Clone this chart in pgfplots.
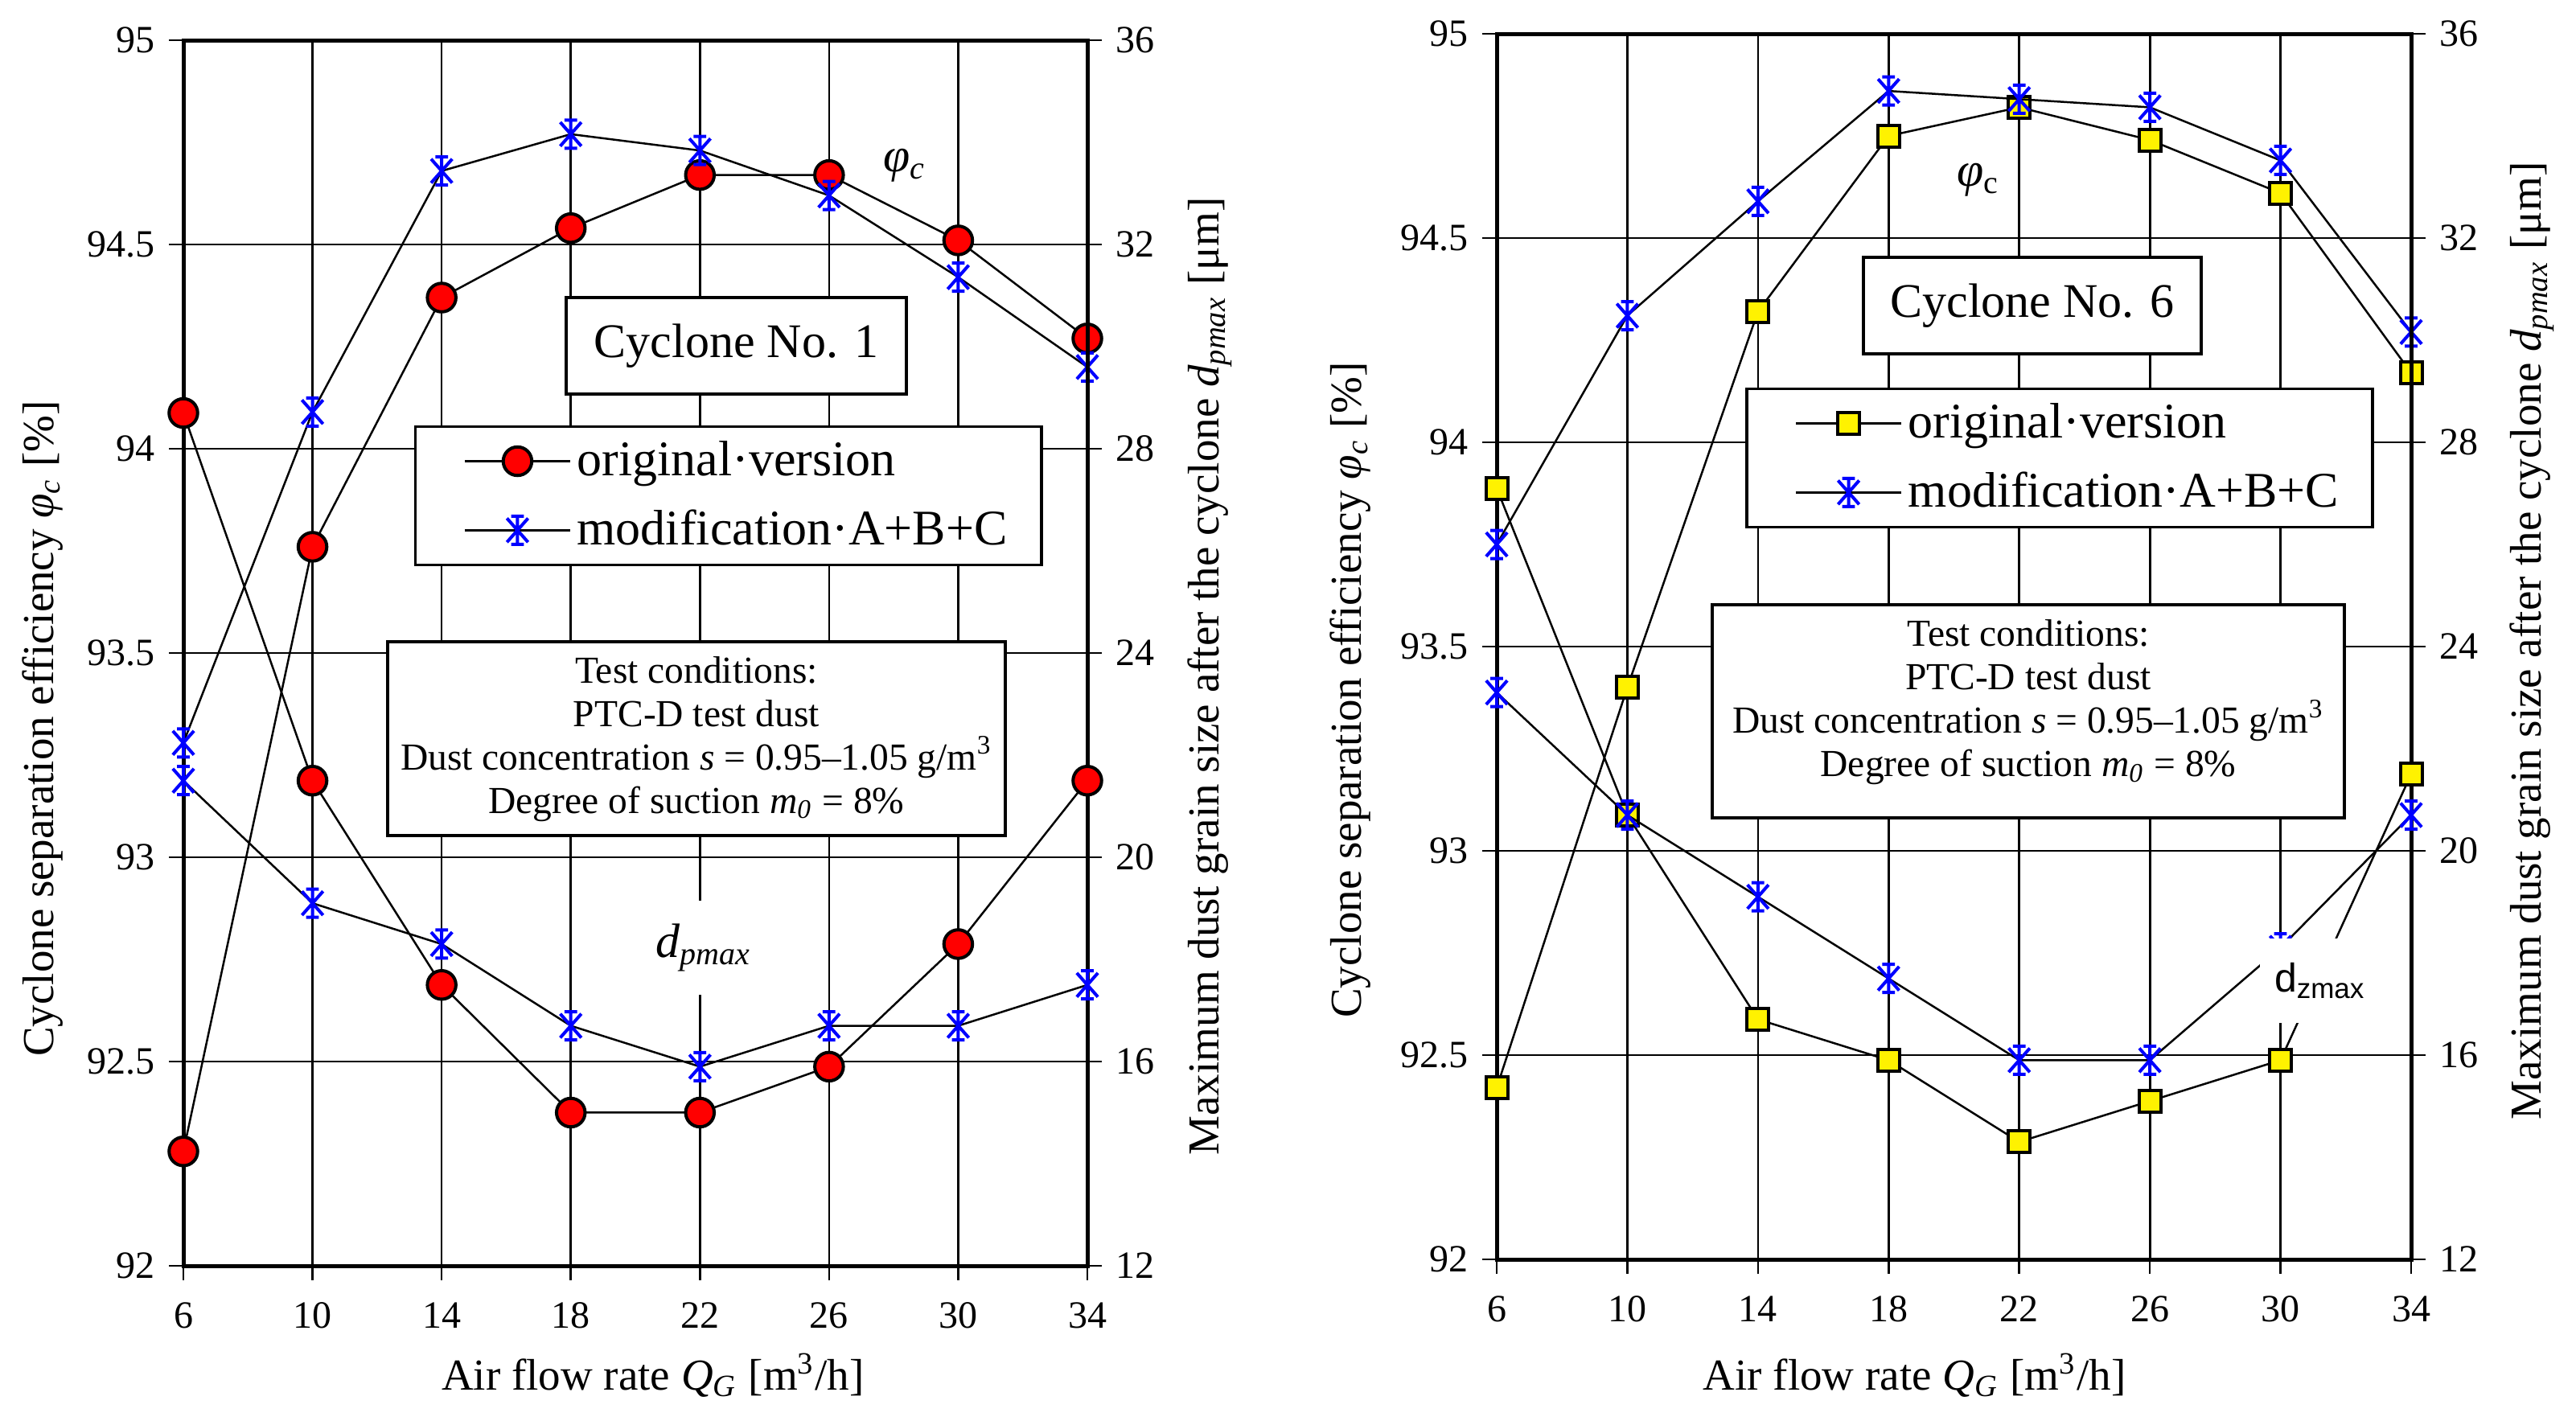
\documentclass[border=0pt]{standalone}
\usepackage{fontspec}
\setmainfont{Liberation Serif}
\newfontfamily\sansf{Liberation Sans}
\usepackage{pgfplots}
\pgfplotsset{compat=1.18}

\pgfdeclareplotmark{xstar}{%
  \pgfpathmoveto{\pgfqpoint{0pt}{-\pgfplotmarksize}}%
  \pgfpathlineto{\pgfqpoint{0pt}{\pgfplotmarksize}}%
  \pgfpathmoveto{\pgfqpoint{-0.75\pgfplotmarksize}{-0.85\pgfplotmarksize}}%
  \pgfpathlineto{\pgfqpoint{0.75\pgfplotmarksize}{0.85\pgfplotmarksize}}%
  \pgfpathmoveto{\pgfqpoint{-0.75\pgfplotmarksize}{0.85\pgfplotmarksize}}%
  \pgfpathlineto{\pgfqpoint{0.75\pgfplotmarksize}{-0.85\pgfplotmarksize}}%
  \pgfpathmoveto{\pgfqpoint{-0.45\pgfplotmarksize}{\pgfplotmarksize}}%
  \pgfpathlineto{\pgfqpoint{0.45\pgfplotmarksize}{\pgfplotmarksize}}%
  \pgfpathmoveto{\pgfqpoint{-0.45\pgfplotmarksize}{-\pgfplotmarksize}}%
  \pgfpathlineto{\pgfqpoint{0.45\pgfplotmarksize}{-\pgfplotmarksize}}%
  \pgfusepathqstroke}

\pgfplotsset{
  common/.style={
    scale only axis, height=304.8pt,
    xmin=6, xmax=34,
    tick align=outside, major tick length=3.6pt,
    every tick/.style={black, line width=0.5pt},
    ticklabel style={font=\fontsize{9.6}{11}\selectfont},
    xticklabel style={yshift=-2pt},
    label style={font=\fontsize{11}{13}\selectfont},
    axis line style={line width=1pt},
    clip=false, clip marker paths=true,
  },
  leftax/.style={
    common, anchor=north west,
    ymin=92, ymax=95, ytick={92,92.5,...,95.01},
    yticklabels={92,92.5,93,93.5,94,94.5,95},
    xtick={6,10,...,34}, xticklabels={6,10,14,18,22,26,30,34},
    xtick pos=bottom, ytick pos=left,
    grid=major, major grid style={black, line width=0.54pt},
    xlabel={Air flow rate \textit{Q}\textsubscript{\textit{G}} [m\textsuperscript{3}/h]},
    ylabel={Cyclone separation efficiency \textit{φ}\textsubscript{\textit{c}} [\%]},
    legend cell align=left,
    legend image code/.code={\path (-5pt,0pt);
      \draw[mark repeat=2,mark phase=2,##1] plot coordinates {(0pt,0pt) (13.1pt,0pt) (26.2pt,0pt)};},
  },
  rightax/.style={
    common, anchor=north west,
    ymin=12, ymax=36, ytick={12,16,...,36},
    yticklabels={12,16,20,24,28,32,36},
    axis y line*=right, axis x line=none,
    ylabel={Maximum dust grain size after the cyclone \textit{d}\textsubscript{\textit{pmax}} [μm]},
  },
  lgd/.style={legend style={draw=black, line width=0.7pt, fill=white,
      font=\fontsize{12.4}{14}\selectfont, inner xsep=7pt, inner ysep=2pt,
      row sep=4pt, nodes={inner sep=1.5pt}, anchor=north west}},
  orig/.style={black, line width=0.5pt, mark=*, mark size=3.55pt,
      mark options={fill=red, draw=black, line width=0.8pt}},
  origsq/.style={black, line width=0.5pt, mark=square*, mark size=2.7pt,
      mark options={fill=yellow, draw=black, line width=0.8pt}},
  modi/.style={black, line width=0.5pt, mark=xstar, mark size=3.5pt,
      mark options={draw=blue, line width=0.8pt}},
}

\begin{document}
\begin{tikzpicture}
\useasboundingbox (0pt,0pt) rectangle (640.6pt,-353.4pt);

% ---------------- Cyclone No. 1 ----------------
\begin{axis}[leftax, lgd, at={(45.6pt,-10pt)}, width=224.8pt,
  xlabel style={at={(rel axis cs:0.5196,-0.0893)}, anchor=center},
  ylabel style={at={(rel axis cs:-0.1557,0.4383)}, anchor=center},
  legend style={at={(rel axis cs:0.2553,0.6857)}}]
\addplot[orig] coordinates {(6,92.28) (10,93.76) (14,94.37) (18,94.54) (22,94.67) (26,94.67) (30,94.51) (34,94.27)};
\addlegendentry{original·version}
\addplot[modi] coordinates {(6,93.28) (10,94.09) (14,94.68) (18,94.77) (22,94.73) (26,94.62) (30,94.42) (34,94.20)};
\addlegendentry{modification·A+B+C}
\end{axis}
\begin{axis}[rightax, at={(45.6pt,-10pt)}, width=224.8pt,
  ylabel style={at={(rel axis cs:1.1352,0.481)}, anchor=center}]
\addplot[orig] coordinates {(6,28.7) (10,21.5) (14,17.5) (18,15.0) (22,15.0) (26,15.9) (30,18.3) (34,21.5)};
\addplot[modi] coordinates {(6,21.5) (10,19.1) (14,18.3) (18,16.7) (22,15.9) (26,16.7) (30,16.7) (34,17.5)};
\node[draw=black, line width=0.7pt, fill=white, minimum width=84.6pt, minimum height=24pt, inner sep=0pt,
  font=\fontsize{12}{14}\selectfont] at (rel axis cs:0.6117,0.7507) {Cyclone No. 1};
\node[draw=black, line width=0.7pt, fill=white, minimum width=153.6pt, minimum height=48.2pt, inner sep=0pt]
  at (rel axis cs:0.5676,0.4301) {};
\node[anchor=north, align=center, inner sep=0pt, font=\fontsize{9.5}{10.8}\selectfont]
  at (rel axis cs:0.5676,0.498) {Test conditions:\\PTC-D test dust\\Dust concentration \textit{s} = 0.95–1.05 g/m\textsuperscript{3}\\Degree of suction \textit{m}\textsubscript{\textit{0}} = 8\%};
\node[font=\fontsize{12}{14}\selectfont] at (rel axis cs:0.798,0.898) {\textit{φ}\textsubscript{\textit{c}}};
\node[fill=white, minimum width=25.6pt, minimum height=23.4pt, inner sep=0pt,
  font=\fontsize{12}{14}\selectfont] at (rel axis cs:0.5756,0.2598) {\textit{d}\textsubscript{\textit{pmax}}};
\end{axis}

% ---------------- Cyclone No. 6 ----------------
\begin{axis}[leftax, lgd, at={(372.2pt,-8.4pt)}, width=227.4pt,
  xlabel style={at={(rel axis cs:0.457,-0.0945)}, anchor=center},
  ylabel style={at={(rel axis cs:-0.160,0.4646)}, anchor=center},
  legend style={at={(rel axis cs:0.2718,0.7113)}}]
\addplot[origsq] coordinates {(6,92.42) (10,93.40) (14,94.32) (18,94.75) (22,94.82) (26,94.74) (30,94.61) (34,94.17)};
\addlegendentry{original·version}
\addplot[modi] coordinates {(6,93.75) (10,94.31) (14,94.59) (18,94.86) (22,94.84) (26,94.82) (30,94.69) (34,94.27)};
\addlegendentry{modification·A+B+C}
\end{axis}
\begin{axis}[rightax, at={(372.2pt,-8.4pt)}, width=227.4pt,
  ylabel style={at={(rel axis cs:1.132,0.5046)}, anchor=center}]
\addplot[origsq] coordinates {(6,27.1) (10,20.7) (14,16.7) (18,15.9) (22,14.3) (26,15.1) (30,15.9) (34,21.5)};
\addplot[modi] coordinates {(6,23.1) (10,20.7) (14,19.1) (18,17.5) (22,15.9) (26,15.9) (30,18.1) (34,20.7)};
\node[draw=black, line width=0.7pt, fill=white, minimum width=84pt, minimum height=24pt, inner sep=0pt,
  font=\fontsize{12}{14}\selectfont] at (rel axis cs:0.5858,0.7782) {Cyclone No. 6};
\node[draw=black, line width=0.7pt, fill=white, minimum width=157.2pt, minimum height=53pt, inner sep=0pt]
  at (rel axis cs:0.5814,0.4472) {};
\node[anchor=north, align=center, inner sep=0pt, font=\fontsize{9.5}{10.8}\selectfont]
  at (rel axis cs:0.5814,0.5223) {Test conditions:\\PTC-D test dust\\Dust concentration \textit{s} = 0.95–1.05 g/m\textsuperscript{3}\\Degree of suction \textit{m}\textsubscript{\textit{0}} = 8\%};
\node[font=\fontsize{12}{14}\selectfont] at (rel axis cs:0.5268,0.8806) {\textit{φ}\textsubscript{c}};
\node[fill=white, minimum width=30pt, minimum height=21pt, inner sep=0pt,
  font=\sansf\fontsize{10}{12}\selectfont] at (rel axis cs:0.9006,0.2274) {d\textsubscript{zmax}};
\end{axis}
\end{tikzpicture}
\end{document}
